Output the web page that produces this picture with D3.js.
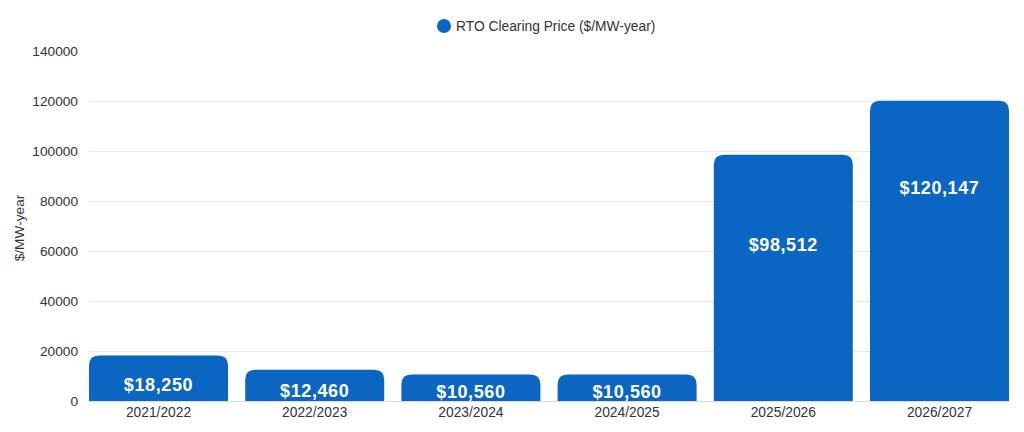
<!DOCTYPE html>
<html>
<head>
<meta charset="utf-8">
<script src="https://cdn.jsdelivr.net/npm/d3@7"></script>
<style>
  body { margin: 0; background: #fff; }
  svg text { font-family: "Liberation Sans", Arial, sans-serif; }
</style>
</head>
<body>
<div id="chart"></div>
<script>
var w = 1024, h = 432;

var years = ['2021/2022', '2022/2023', '2023/2024', '2024/2025', '2025/2026', '2026/2027'];
var prices = [18250, 12460, 10560, 10560, 98512, 120147];
var yTicks = [0, 20000, 40000, 60000, 80000, 100000, 120000, 140000];
var seriesName = 'RTO Clearing Price ($/MW-year)';
var yTitle = '$/MW-year';

var blue = '#0a66c2';
var margin = {top: 51, right: 15, bottom: 31, left: 89};

var svg = d3.select('#chart').append('svg')
    .attr('width', w)
    .attr('height', h);

var x = d3.scaleBand()
    .domain(years)
    .range([margin.left, w - margin.right])
    .paddingInner(0.11)
    .paddingOuter(0);

var y = d3.scaleLinear()
    .domain([0, 140000])
    .range([h - margin.bottom, margin.top]);

// grid lines (no line at the top tick)
svg.append('g').selectAll('line')
    .data(yTicks.filter(d => d < 140000))
    .enter()
    .append('line')
    .attr('x1', margin.left)
    .attr('x2', w - margin.right)
    .attr('y1', d => y(d) + 0.5)
    .attr('y2', d => y(d) + 0.5)
    .attr('stroke', d => d === 0 ? '#dcdcdc' : '#e8e8e8')
    .attr('stroke-width', 1);

// y axis labels
var yAxis = d3.axisLeft(y).tickValues(yTicks).tickSize(0).tickPadding(11).tickFormat(d3.format('d'));
var gy = svg.append('g')
    .attr('transform', 'translate(' + margin.left + ',0)')
    .call(yAxis);
gy.select('.domain').remove();
gy.selectAll('text')
    .attr('fill', '#333')
    .style('font-size', '13.7px');

// x axis labels
var xAxis = d3.axisBottom(x).tickSize(0).tickPadding(6);
var gx = svg.append('g')
    .attr('transform', 'translate(0,' + (h - margin.bottom) + ')')
    .call(xAxis);
gx.select('.domain').remove();
gx.selectAll('text')
    .attr('fill', '#333')
    .style('font-size', '13.8px');

// y title
svg.append('text')
    .attr('transform', 'translate(24,' + ((margin.top + h - margin.bottom) / 2 + 2) + ') rotate(-90)')
    .attr('text-anchor', 'middle')
    .attr('fill', '#333')
    .style('font-size', '13.7px')
    .text(yTitle);

// bars with rounded tops
function topRounded(x0, y0, bw, bh, r) {
    r = Math.min(r, bh, bw / 2);
    return 'M' + x0 + ',' + (y0 + bh) +
        'V' + (y0 + r) +
        'Q' + x0 + ',' + y0 + ' ' + (x0 + r) + ',' + y0 +
        'H' + (x0 + bw - r) +
        'Q' + (x0 + bw) + ',' + y0 + ' ' + (x0 + bw) + ',' + (y0 + r) +
        'V' + (y0 + bh) + 'Z';
}

var data = years.map((d, i) => ({year: d, value: prices[i]}));

svg.append('g').selectAll('path')
    .data(data)
    .enter()
    .append('path')
    .attr('d', d => topRounded(x(d.year), y(d.value), x.bandwidth(), y(0) - y(d.value), 10))
    .attr('fill', blue);

// value labels
var fmt = d3.format(',');
svg.append('g').selectAll('text')
    .data(data)
    .enter()
    .append('text')
    .attr('x', d => x(d.year) + x.bandwidth() / 2)
    .attr('y', d => y(d.value * (0.3 + d.value * 0.0000034)))
    .attr('dy', '0.35em')
    .attr('text-anchor', 'middle')
    .attr('fill', '#fff')
    .style('font-size', '18px')
    .style('font-weight', 'bold')
    .style('letter-spacing', '0.6px')
    .text(d => '$' + fmt(d.value));

// legend
var lg = svg.append('g').attr('transform', 'translate(444,26)');
lg.append('circle').attr('r', 7).attr('fill', blue);
lg.append('text')
    .attr('x', 12)
    .attr('dy', '0.35em')
    .attr('fill', '#333')
    .style('font-size', '13.8px')
    .text(seriesName);
</script>
</body>
</html>
